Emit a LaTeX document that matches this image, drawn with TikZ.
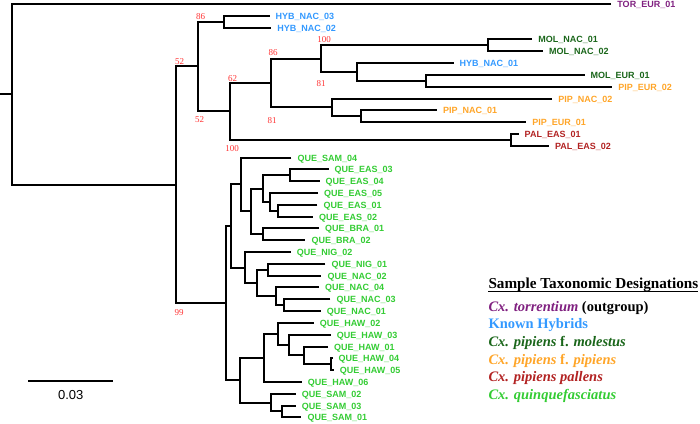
\documentclass[tikz,border=0pt]{standalone}
\usepackage{fontspec}
\setmainfont{Liberation Serif}
\setsansfont{Liberation Sans}
\definecolor{torcol}{RGB}{128,32,128}
\definecolor{hybcol}{RGB}{51,153,255}
\definecolor{molcol}{RGB}{26,102,26}
\definecolor{pipcol}{RGB}{255,165,40}
\definecolor{palcol}{RGB}{178,34,34}
\definecolor{quecol}{RGB}{51,204,51}
\definecolor{bootcol}{RGB}{255,51,51}
\begin{document}
\begin{tikzpicture}[x=1pt,y=-1pt,
    branch/.style={line width=1.7pt,line join=miter},
    tip/.style={font=\sffamily\bfseries\fontsize{9}{10}\selectfont,anchor=base west,inner sep=0pt,xshift=6pt,yshift=-3.2pt},
    boot/.style={font=\fontsize{9}{10}\selectfont,text=bootcol,inner sep=0pt},
    legtitle/.style={font=\bfseries\fontsize{15.2}{17}\selectfont,anchor=base west,inner sep=0pt},
    legitem/.style={font=\bfseries\fontsize{14.5}{16}\selectfont,anchor=base west,inner sep=0pt}]

    \useasboundingbox (0,0) rectangle (700,423);

    \begin{scope}[shift={(-0.5,-0.5)}]
    % Internal nodes
    \coordinate (stub) at (0,94.5);
    \coordinate (root) at (12.5,94.5);
    \coordinate (top52) at (176.5,185.5);
    \coordinate (top86) at (198.5,66.5);
    \coordinate (hyb) at (224.5,22.5);
    \coordinate (b62) at (230.5,111.5);
    \coordinate (b86) at (271.5,83.5);
    \coordinate (b100) at (321.5,59.5);
    \coordinate (molnac) at (488.5,45.5);
    \coordinate (hybnac) at (357.5,72.5);
    \coordinate (moleur) at (426.5,81.5);
    \coordinate (pipnac) at (332.5,107.5);
    \coordinate (pipeur) at (361.5,116.5);
    \coordinate (pal) at (511.5,140.5);
    \coordinate (que) at (226.5,303.5);
    \coordinate (qa) at (231.5,226.5);
    \coordinate (sam4) at (241.5,184.5);
    \coordinate (eh) at (251.5,211.5);
    \coordinate (ed) at (263.5,189.5);
    \coordinate (ea) at (290.5,175.5);
    \coordinate (ec) at (270.5,202.5);
    \coordinate (eb) at (278.5,211.5);
    \coordinate (bra) at (263.5,234.5);
    \coordinate (ne) at (245.5,268.5);
    \coordinate (nd) at (257.5,283.5);
    \coordinate (na) at (268.5,270.5);
    \coordinate (nc) at (276.5,296.5);
    \coordinate (nb) at (284.5,305.5);
    \coordinate (hu) at (240.5,380.5);
    \coordinate (ht) at (264.5,358.5);
    \coordinate (hs) at (278.5,334.5);
    \coordinate (hr) at (289.5,345.5);
    \coordinate (hq) at (304.5,355.5);
    \coordinate (hp) at (331.5,364.5);
    \coordinate (sw) at (271.5,403.5);
    \coordinate (sv) at (282.5,411.5);

    % Tips
    \coordinate (tTOR) at (611.7,4.5);
    \coordinate (tHYB3) at (270,16.5);
    \coordinate (tHYB2) at (271.7,28.5);
    \coordinate (tMOLN1) at (532.7,39.5);
    \coordinate (tMOLN2) at (543.3,51.5);
    \coordinate (tHYB1) at (454,63.5);
    \coordinate (tMOLE1) at (585,75.5);
    \coordinate (tPIPE2) at (612.7,87.5);
    \coordinate (tPIPN2) at (552.7,99.5);
    \coordinate (tPIPN1) at (437.3,110.5);
    \coordinate (tPIPE1) at (526.7,122.5);
    \coordinate (tPAL1) at (519,134.5);
    \coordinate (tPAL2) at (549.3,146.5);
    \coordinate (tSAM4) at (291.8,158.5);
    \coordinate (tEAS3) at (329,169.5);
    \coordinate (tEAS4) at (320,181.5);
    \coordinate (tEAS5) at (318.5,193.5);
    \coordinate (tEAS1) at (317.8,205.5);
    \coordinate (tEAS2) at (313.5,217.5);
    \coordinate (tBRA1) at (319.5,228.5);
    \coordinate (tBRA2) at (305.8,240.5);
    \coordinate (tNIG2) at (291.2,252.5);
    \coordinate (tNIG1) at (325.8,264.5);
    \coordinate (tNAC2) at (321.8,276.5);
    \coordinate (tNAC4) at (319.5,287.5);
    \coordinate (tNAC3) at (330.8,299.5);
    \coordinate (tNAC1) at (321.2,311.5);
    \coordinate (tHAW2) at (314.2,323.5);
    \coordinate (tHAW3) at (331.2,335.5);
    \coordinate (tHAW1) at (328.5,347.5);
    \coordinate (tHAW4) at (333,358.5);
    \coordinate (tHAW5) at (334.2,370.5);
    \coordinate (tHAW6) at (302.2,382.5);
    \coordinate (tSAM2) at (296.2,394.5);
    \coordinate (tSAM3) at (296.2,406.5);
    \coordinate (tSAM1) at (301.8,417.5);

    % Branches
    \draw[branch] (stub) -- (root);
    \draw[branch] (tTOR) -| (root) |- (top52);
    \draw[branch] (top86) -| (top52) |- (que);
    \draw[branch] (hyb) -| (top86) |- (b62);
    \draw[branch] (tHYB3) -| (hyb) |- (tHYB2);
    \draw[branch] (b86) -| (b62) |- (pal);
    \draw[branch] (b100) -| (b86) |- (pipnac);
    \draw[branch] (molnac) -| (b100) |- (hybnac);
    \draw[branch] (tMOLN1) -| (molnac) |- (tMOLN2);
    \draw[branch] (tHYB1) -| (hybnac) |- (moleur);
    \draw[branch] (tMOLE1) -| (moleur) |- (tPIPE2);
    \draw[branch] (tPIPN2) -| (pipnac) |- (pipeur);
    \draw[branch] (tPIPN1) -| (pipeur) |- (tPIPE1);
    \draw[branch] (tPAL1) -| (pal) |- (tPAL2);
    \draw[branch] (qa) -| (que) |- (hu);
    \draw[branch] (sam4) -| (qa) |- (ne);
    \draw[branch] (tSAM4) -| (sam4) |- (eh);
    \draw[branch] (ed) -| (eh) |- (bra);
    \draw[branch] (ea) -| (ed) |- (ec);
    \draw[branch] (tEAS3) -| (ea) |- (tEAS4);
    \draw[branch] (tEAS5) -| (ec) |- (eb);
    \draw[branch] (tEAS1) -| (eb) |- (tEAS2);
    \draw[branch] (tBRA1) -| (bra) |- (tBRA2);
    \draw[branch] (tNIG2) -| (ne) |- (nd);
    \draw[branch] (na) -| (nd) |- (nc);
    \draw[branch] (tNIG1) -| (na) |- (tNAC2);
    \draw[branch] (tNAC4) -| (nc) |- (nb);
    \draw[branch] (tNAC3) -| (nb) |- (tNAC1);
    \draw[branch] (ht) -| (hu) |- (sw);
    \draw[branch] (hs) -| (ht) |- (tHAW6);
    \draw[branch] (tHAW2) -| (hs) |- (hr);
    \draw[branch] (tHAW3) -| (hr) |- (hq);
    \draw[branch] (tHAW1) -| (hq) |- (hp);
    \draw[branch] (tHAW4) -| (hp) |- (tHAW5);
    \draw[branch] (tSAM2) -| (sw) |- (sv);
    \draw[branch] (tSAM3) -| (sv) |- (tSAM1);

    % Tip labels
    \node[tip,text=torcol] (TOR) at (tTOR) {TOR\_EUR\_01};
    \node[tip,text=hybcol] (HYB3) at (tHYB3) {HYB\_NAC\_03};
    \node[tip,text=hybcol] (HYB2) at (tHYB2) {HYB\_NAC\_02};
    \node[tip,text=molcol] (MOLN1) at (tMOLN1) {MOL\_NAC\_01};
    \node[tip,text=molcol] (MOLN2) at (tMOLN2) {MOL\_NAC\_02};
    \node[tip,text=hybcol] (HYB1) at (tHYB1) {HYB\_NAC\_01};
    \node[tip,text=molcol] (MOLE1) at (tMOLE1) {MOL\_EUR\_01};
    \node[tip,text=pipcol] (PIPE2) at (tPIPE2) {PIP\_EUR\_02};
    \node[tip,text=pipcol] (PIPN2) at (tPIPN2) {PIP\_NAC\_02};
    \node[tip,text=pipcol] (PIPN1) at (tPIPN1) {PIP\_NAC\_01};
    \node[tip,text=pipcol] (PIPE1) at (tPIPE1) {PIP\_EUR\_01};
    \node[tip,text=palcol] (PAL1) at (tPAL1) {PAL\_EAS\_01};
    \node[tip,text=palcol] (PAL2) at (tPAL2) {PAL\_EAS\_02};
    \node[tip,text=quecol] (SAM4) at (tSAM4) {QUE\_SAM\_04};
    \node[tip,text=quecol] (EAS3) at (tEAS3) {QUE\_EAS\_03};
    \node[tip,text=quecol] (EAS4) at (tEAS4) {QUE\_EAS\_04};
    \node[tip,text=quecol] (EAS5) at (tEAS5) {QUE\_EAS\_05};
    \node[tip,text=quecol] (EAS1) at (tEAS1) {QUE\_EAS\_01};
    \node[tip,text=quecol] (EAS2) at (tEAS2) {QUE\_EAS\_02};
    \node[tip,text=quecol] (BRA1) at (tBRA1) {QUE\_BRA\_01};
    \node[tip,text=quecol] (BRA2) at (tBRA2) {QUE\_BRA\_02};
    \node[tip,text=quecol] (NIG2) at (tNIG2) {QUE\_NIG\_02};
    \node[tip,text=quecol] (NIG1) at (tNIG1) {QUE\_NIG\_01};
    \node[tip,text=quecol] (NAC2) at (tNAC2) {QUE\_NAC\_02};
    \node[tip,text=quecol] (NAC4) at (tNAC4) {QUE\_NAC\_04};
    \node[tip,text=quecol] (NAC3) at (tNAC3) {QUE\_NAC\_03};
    \node[tip,text=quecol] (NAC1) at (tNAC1) {QUE\_NAC\_01};
    \node[tip,text=quecol] (HAW2) at (tHAW2) {QUE\_HAW\_02};
    \node[tip,text=quecol] (HAW3) at (tHAW3) {QUE\_HAW\_03};
    \node[tip,text=quecol] (HAW1) at (tHAW1) {QUE\_HAW\_01};
    \node[tip,text=quecol] (HAW4) at (tHAW4) {QUE\_HAW\_04};
    \node[tip,text=quecol] (HAW5) at (tHAW5) {QUE\_HAW\_05};
    \node[tip,text=quecol] (HAW6) at (tHAW6) {QUE\_HAW\_06};
    \node[tip,text=quecol] (SAM2) at (tSAM2) {QUE\_SAM\_02};
    \node[tip,text=quecol] (SAM3) at (tSAM3) {QUE\_SAM\_03};
    \node[tip,text=quecol] (SAM1) at (tSAM1) {QUE\_SAM\_01};
    \end{scope}

    % Bootstrap values
    \node[boot] (bs1) at (179.5,61.5) {52};
    \node[boot] (bs2) at (179,312.5) {99};
    \node[boot] (bs3) at (200.5,16.3) {86};
    \node[boot] (bs4) at (199.5,120) {52};
    \node[boot] (bs5) at (232.5,78.3) {62};
    \node[boot] (bs6) at (232,149) {100};
    \node[boot] (bs7) at (273,52.5) {86};
    \node[boot] (bs8) at (272,120.3) {81};
    \node[boot] (bs9) at (324,40) {100};
    \node[boot] (bs10) at (321,83.3) {81};

    % Scale bar
    \coordinate (sbL) at (28.3,381);
    \coordinate (sbR) at (113.3,381);
    \draw[line width=2.2pt] (sbL) -- (sbR);
    \node[font=\sffamily\fontsize{13}{14}\selectfont,inner sep=0pt] (sblab) at (70.8,394.7) {0.03};

    % Legend
    \node[legtitle] (ttl) at (488.3,288.3) {Sample Taxonomic Designations};
    \draw[line width=1pt] ([yshift=-2.7pt]ttl.base west) -- ([yshift=-2.7pt]ttl.base east);
    \node[legitem,text=torcol] (lg1) at (488.3,311.2) {\textit{Cx. torrentium} \textcolor{black}{(outgroup)}};
    \node[legitem,text=hybcol] (lg2) at (488.3,328.8) {Known Hybrids};
    \node[legitem,text=molcol] (lg3) at (488.3,346.4) {\textit{Cx. pipiens} f. \textit{molestus}};
    \node[legitem,text=pipcol] (lg4) at (488.3,364) {\textit{Cx. pipiens} f. \textit{pipiens}};
    \node[legitem,text=palcol] (lg5) at (488.3,381.6) {\textit{Cx. pipiens pallens}};
    \node[legitem,text=quecol] (lg6) at (488.3,399.2) {\textit{Cx. quinquefasciatus}};

\end{tikzpicture}
\end{document}
